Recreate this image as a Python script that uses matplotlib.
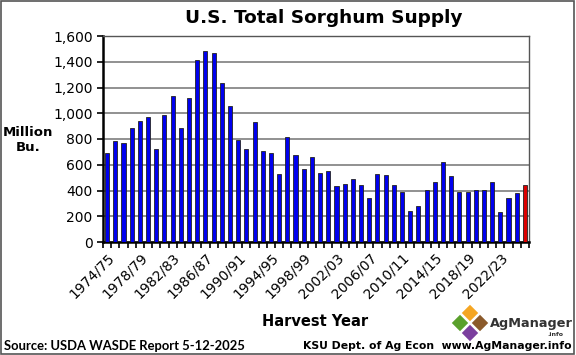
import matplotlib.pyplot as plt
from matplotlib.patches import Polygon, Rectangle
import numpy as np

years = list(range(1974, 2026))
supply = [690, 784, 769, 882, 939, 967, 725, 988, 1135, 882,
          1115, 1414, 1483, 1468, 1236, 1053, 789, 725, 934, 704,
          694, 531, 818, 679, 565, 660, 537, 555, 433, 451,
          488, 446, 343, 526, 521, 439, 387, 240, 279, 405,
          464, 619, 516, 392, 392, 402, 402, 464, 232, 341,
          377, 441]
labels = ["%d/%02d" % (y, (y + 1) % 100) for y in years]
yticks = [0, 200, 400, 600, 800, 1000, 1200, 1400, 1600]

plt.rcParams['font.family'] = 'DejaVu Sans'

fig = plt.figure(figsize=(5.76, 3.55), dpi=100)
fig.patches.append(Rectangle((0.002, 0.003), 0.995, 0.994, transform=fig.transFigure,
                             fill=False, edgecolor='#555555', linewidth=1.2))
ax = fig.add_axes([103 / 576, 1 - 242 / 355, 426 / 576, 206 / 355])

x = np.arange(len(years))
colors = ['#0000ee'] * (len(years) - 1) + ['#dd0000']
ax.bar(x, supply, width=0.5, color=colors, edgecolor='#222222', linewidth=0.6, zorder=3)

ax.set_xlim(-0.5, len(years) - 0.5)
ax.set_ylim(0, 1600)
ax.set_yticks(yticks)
ax.set_yticklabels(["{:,}".format(v) for v in yticks], fontsize=10)
ax.yaxis.grid(True, color='#888888', linewidth=1.3, zorder=0)
ax.set_axisbelow(True)

ax.set_xticks(x[::4])
ax.set_xticklabels(labels[::4], rotation=45, ha='right', rotation_mode='anchor', fontsize=10)
ax.set_xticks(np.arange(-0.5, len(years), 1), minor=True)
ax.tick_params(axis='x', which='major', length=0, pad=6)
ax.tick_params(axis='x', which='minor', length=4, width=1.2, direction='out')
ax.tick_params(axis='y', length=4, width=1.2, direction='out')

for s in ['left', 'bottom']:
    ax.spines[s].set_linewidth(1.8)
for s in ['top', 'right']:
    ax.spines[s].set_color('#555555')
    ax.spines[s].set_linewidth(1.0)

fig.text(324 / 576, 1 - 18 / 355, "U.S. Total Sorghum Supply", ha='center', va='center',
         fontsize=13.3, fontweight='bold')
fig.text(28 / 576, 1 - 140 / 355, "Million\nBu.", ha='center', va='center', fontsize=9.5,
         fontweight='bold', linespacing=1.2)
fig.text(315 / 576, 1 - 322 / 355, "Harvest Year", ha='center', va='center', fontsize=10.5,
         fontweight='bold')
fig.text(4 / 576, 1 - 346 / 355, "Source: USDA WASDE Report 5-12-2025", ha='left', va='center',
         fontsize=9.4, family='Lato', fontweight='bold')
fig.text(572 / 576, 1 - 346 / 355, "KSU Dept. of Ag Econ  www.AgManager.info", ha='right',
         va='center', fontsize=7.8, fontweight='bold')

# logo
cx, cy, d = 470, 323, 10
diamonds = [((cx, cy - d), '#f5a623'), ((cx - d, cy), '#5aa02c'),
            ((cx + d, cy), '#8b5a2b'), ((cx, cy + d), '#7b3f9e')]
for (px, py), c in diamonds:
    pts = [(px, py - d + 1), (px + d - 1, py), (px, py + d - 1), (px - d + 1, py)]
    pts = [(a / 576, 1 - b / 355) for a, b in pts]
    fig.patches.append(Polygon(pts, closed=True, transform=fig.transFigure,
                               facecolor=c, edgecolor='white', linewidth=0.8))
fig.text(490 / 576, 1 - 323 / 355, "AgManager", ha='left', va='center',
         fontsize=9.3, fontweight='bold', color='#333333')
fig.text(563 / 576, 1 - 334 / 355, ".info", ha='right', va='center',
         fontsize=4.5, fontweight='bold', color='#333333')

fig.savefig("out.png", dpi=100)
